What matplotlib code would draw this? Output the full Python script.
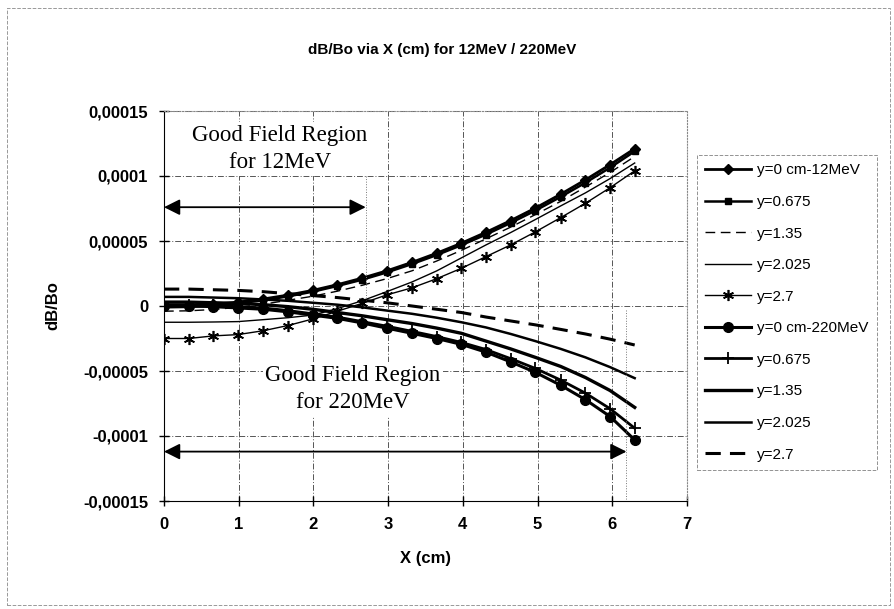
import matplotlib
matplotlib.use("Agg")
import matplotlib.pyplot as plt
import numpy as np
from matplotlib.patches import Rectangle

# X positions (cm)
x_cm = [0, 0.33, 0.66, 0.99, 1.33, 1.66, 1.99, 2.32, 2.65, 2.98,
        3.32, 3.65, 3.98, 4.31, 4.64, 4.97, 5.31, 5.64, 5.97, 6.3]

# dB/Bo values in units of 1e-6, 12MeV
y0_12 = [0, 0.3, 1.3, 3, 5.4, 8.4, 12, 16.4, 21.4, 27,
         33.6, 40.6, 48.3, 56.7, 65.7, 75.3, 86, 97, 108.7, 121]
y0675_12 = [-1, -0.7, 0.3, 2, 4.4, 7.4, 11, 15.4, 20.2, 25.8,
            32.3, 39.2, 46.8, 55, 63.9, 73.4, 84, 94.8, 106.4, 119]
y135_12 = [-4, -3.7, -2.7, -1, 1.4, 4.4, 7.5, 11.4, 15.9, 21,
           27.1, 34.6, 42.8, 51.7, 60.7, 70.3, 80.5, 91.5, 102.7, 115]
y2025_12 = [-12.5, -12.5, -12.3, -12, -10.5, -9, -7, -2, 4, 11,
            18.5, 27, 37, 47, 56.5, 66.5, 77, 87, 98, 110]
y27_12 = [-25, -25, -23, -22, -19, -15, -10, -4, 2, 8.5,
          14, 21, 29, 38, 47, 57, 68, 79, 91, 104]

# dB/Bo values in units of 1e-6, 220MeV
y0_220 = [0, 0, -0.5, -1.5, -2.5, -4.5, -7, -9.5, -13, -17,
          -21, -25, -29.5, -35.5, -43, -51, -61, -72, -85, -103]
y0675_220 = [1, 1, 0.5, -0.5, -1.5, -3.5, -6, -8.5, -12, -15.5,
             -19.5, -23.5, -28, -33.5, -40.5, -48, -57, -67, -79, -94]
y135_220 = [3, 3, 2.5, 2, 1, -0.5, -2.5, -5, -7.5, -10.5,
            -13.5, -17, -21, -27, -33, -39.5, -46.5, -55, -65, -78]
y2025_220 = [7, 7, 6.5, 6, 5, 4, 2.5, 1, -1, -3.5,
             -6, -9, -12.5, -16.5, -21.5, -27, -33, -39.5, -47, -55.5]
y27_220 = [13, 13, 12.5, 12, 11, 9.5, 8, 6.5, 4.5, 2.5,
           0, -2.5, -5, -8.5, -11.5, -14.5, -18, -21.5, -25.5, -30]

y_ticks = [-0.00015, -0.0001, -0.00005, 0, 0.00005, 0.0001, 0.00015]
y_tick_labels = ['-0,00015', '-0,0001', '-0,00005', '0', '0,00005', '0,0001', '0,00015']
x_ticks = [0, 1, 2, 3, 4, 5, 6, 7]

SANS = 'Liberation Sans'
SERIF = 'Liberation Serif'

fig = plt.figure(figsize=(8.95, 6.09), dpi=100)
ax = fig.add_axes([164 / 895, 1 - 501 / 609, (687 - 164) / 895, (501 - 111) / 609])

x = np.array(x_cm)
sc = 1e-6

# 12MeV series
ax.plot(x, np.array(y0_12) * sc, color='black', lw=2.0, marker='D', ms=5,
        label='y=0 cm-12MeV')
ax.plot(x, np.array(y0675_12) * sc, color='black', lw=1.8, marker='s', ms=5,
        label='y=0.675')
ax.plot(x, np.array(y135_12) * sc, color='black', lw=1.0, dashes=(7, 4),
        label='y=1.35')
ax.plot(x, np.array(y2025_12) * sc, color='black', lw=1.0,
        label='y=2.025')
ax.plot(x, np.array(y27_12) * sc, color='black', lw=1.0, marker=(6, 2, 0), ms=8,
        mew=1.2, label='y=2.7')
# 220MeV series
ax.plot(x, np.array(y0_220) * sc, color='black', lw=2.2, marker='o', ms=7,
        label='y=0 cm-220MeV')
ax.plot(x, np.array(y0675_220) * sc, color='black', lw=2.0, marker='+', ms=8,
        mew=1.3, label='y=0.675')
ax.plot(x, np.array(y135_220) * sc, color='black', lw=2.4,
        label='y=1.35')
ax.plot(x, np.array(y2025_220) * sc, color='black', lw=1.8,
        label='y=2.025')
ax.plot(x, np.array(y27_220) * sc, color='black', lw=2.2, dashes=(5, 3),
        label='y=2.7')

ax.set_xlim(0, 7)
ax.set_ylim(-0.00015, 0.00015)
ax.set_xticks(x_ticks)
ax.set_yticks(y_ticks)
ax.set_yticklabels(y_tick_labels)
ax.grid(True, color='#555555', lw=0.7, linestyle=(0, (6, 2, 1, 2)))
ax.set_axisbelow(True)
for lab in ax.get_xticklabels() + ax.get_yticklabels():
    lab.set_fontfamily(SANS)
    lab.set_fontweight('bold')
    lab.set_fontsize(12)
ax.tick_params(direction='inout', length=7, width=1, pad=8)
ax.spines['top'].set_color('#888888')
ax.spines['top'].set_linestyle(':')
ax.spines['right'].set_color('#888888')
ax.spines['right'].set_linestyle(':')

ax.set_xlabel('X (cm)', fontfamily=SANS, fontweight='bold', fontsize=12, labelpad=14)
ax.set_ylabel('dB/Bo', fontfamily=SANS, fontweight='bold', fontsize=12, labelpad=16)
fig.text(442 / 895, 1 - 50 / 609, 'dB/Bo via X (cm) for 12MeV / 220MeV',
         ha='center', va='center', fontfamily=SANS, fontweight='bold', fontsize=11)

# annotations
ax.annotate('', xy=(0, 7.6e-5), xytext=(2.7, 7.6e-5),
            arrowprops=dict(arrowstyle='<|-|>', color='black', lw=1.3,
                            mutation_scale=24, shrinkA=0, shrinkB=0))
ax.annotate('', xy=(0, -1.12e-4), xytext=(6.19, -1.12e-4),
            arrowprops=dict(arrowstyle='<|-|>', color='black', lw=1.3,
                            mutation_scale=24, shrinkA=0, shrinkB=0))
ax.plot([2.7, 2.7], [0.0001, 0.000005], color='#777777', lw=0.7, ls=':')
ax.plot([6.19, 6.19], [-0.000003, -0.00015], color='#777777', lw=0.7, ls=':')
ax.text(1.55, 1.21e-4, 'Good Field Region\nfor 12MeV', ha='center', va='center',
        fontfamily=SERIF, fontsize=16.5, linespacing=1.4,
        bbox=dict(facecolor='white', edgecolor='none', pad=2))
ax.text(2.53, -6.4e-5, 'Good Field Region\nfor 220MeV', ha='center', va='center',
        fontfamily=SERIF, fontsize=16.5, linespacing=1.4,
        bbox=dict(facecolor='white', edgecolor='none', pad=2))

leg = ax.legend(loc='upper left', bbox_to_anchor=(697 / 895, 1 - 155 / 609),
                bbox_transform=fig.transFigure, borderaxespad=0,
                prop={'family': SANS, 'size': 11}, labelspacing=1.15,
                handlelength=3.0, handletextpad=0.4, fancybox=False,
                borderpad=0.55)
leg.get_frame().set_edgecolor('#777777')
leg.get_frame().set_linestyle('--')
leg.get_frame().set_linewidth(0.7)

fig.patches.append(Rectangle((0.008, 0.006), 0.986, 0.981, transform=fig.transFigure,
                             fill=False, edgecolor='#999999', lw=0.7, ls='--'))

fig.savefig('out.png', dpi=100)
